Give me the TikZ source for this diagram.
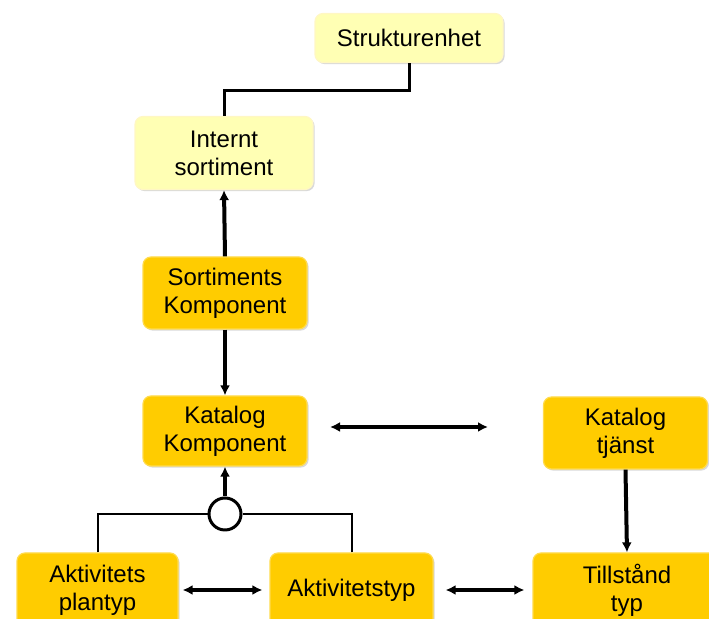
\documentclass[tikz,border=0pt]{standalone}
\usepackage{fontspec}
\setmainfont{Liberation Sans}
\usepackage{tikz}
\usetikzlibrary{positioning,shapes,shadows,arrows.meta}

\definecolor{boxgold}{HTML}{FFCC00}
\definecolor{boxpale}{HTML}{FFFFB4}

\begin{document}
\begin{tikzpicture}[
   			x=0.5pt, y=-0.5pt,
   			every node/.style = {align=center, font=\fontsize{12}{14}\selectfont},
   			entity/.style = {rectangle, rounded corners=4pt, fill=boxgold,
   				draw=boxgold!70!white, line width=0.6pt,
   				drop shadow={shadow xshift=0.8pt, shadow yshift=-0.8pt, fill=black, opacity=0.15},
   				minimum width=82pt, minimum height=36pt, inner sep=1pt},
   			pale/.style = {entity, fill=boxpale, draw=boxpale!60!boxgold!40!white},
   			link/.style = {line width=2pt, -{Latex[length=5pt,width=5pt]}},
   			biway/.style = {line width=2pt, {Latex[length=5pt,width=5pt]}-{Latex[length=5pt,width=5pt]}},
   			tree/.style = {line width=1pt}]
   			\useasboundingbox (0,0) rectangle (709,619);
   			% upper part
   			\node[pale, minimum width=94pt, minimum height=24.5pt] (struktur) at (409,38) {Strukturenhet};
   			\node[pale, minimum width=89pt, minimum height=36.5pt] (internt) at (224,153) {Internt\\sortiment};
   			\node[entity] (sortiment) at (225,293) {Sortiments\\Komponent};
   			\node[entity, minimum height=35pt] (katalog) at (225,431) {Katalog\\Komponent};
   			\node[entity] (tjanst) at (625.5,433) {Katalog\\tjänst};
   			% lower row
   			\node[entity, minimum width=80.5pt, minimum height=37pt] (plantyp) at (97.5,590) {Aktivitets\\plantyp};
   			\node[entity, minimum width=81.5pt, minimum height=37pt] (aktivitet) at (351.5,590) {Aktivitetstyp};
   			\node[entity, minimum width=94pt, minimum height=37pt] (tillstand) at (627,590) {Tillstånd\\typ};
   			\node[circle, draw, fill=white, line width=1.5pt, minimum size=16pt, inner sep=0pt] (junction) at (225,514) {};
   			\coordinate (kleft) at (330,427);
   			\coordinate (kright) at (488,427);
   			% connectors
   			\draw[line width=1.5pt] (struktur.south) -- ++(0,27) -| (internt.north);
   			\draw[link] (sortiment.north) -- (internt.south);
   			\draw[link] (sortiment.south) -- (katalog.north);
   			\draw[biway] (kleft) -- (kright);
   			\draw[link] (tjanst.south) -- (tillstand.north);
   			\draw[link] (junction.north) -- (katalog.south);
   			\draw[tree] (plantyp.north) |- (junction.west);
   			\draw[tree] (aktivitet.north) |- (junction.east);
   			\draw[biway, shorten <=2pt, shorten >=3.5pt] (plantyp.east) -- (aktivitet.west);
   			\draw[biway, shorten <=6pt, shorten >=4pt] (aktivitet.east) -- (tillstand.west);
   			\end{tikzpicture}
\end{document}
